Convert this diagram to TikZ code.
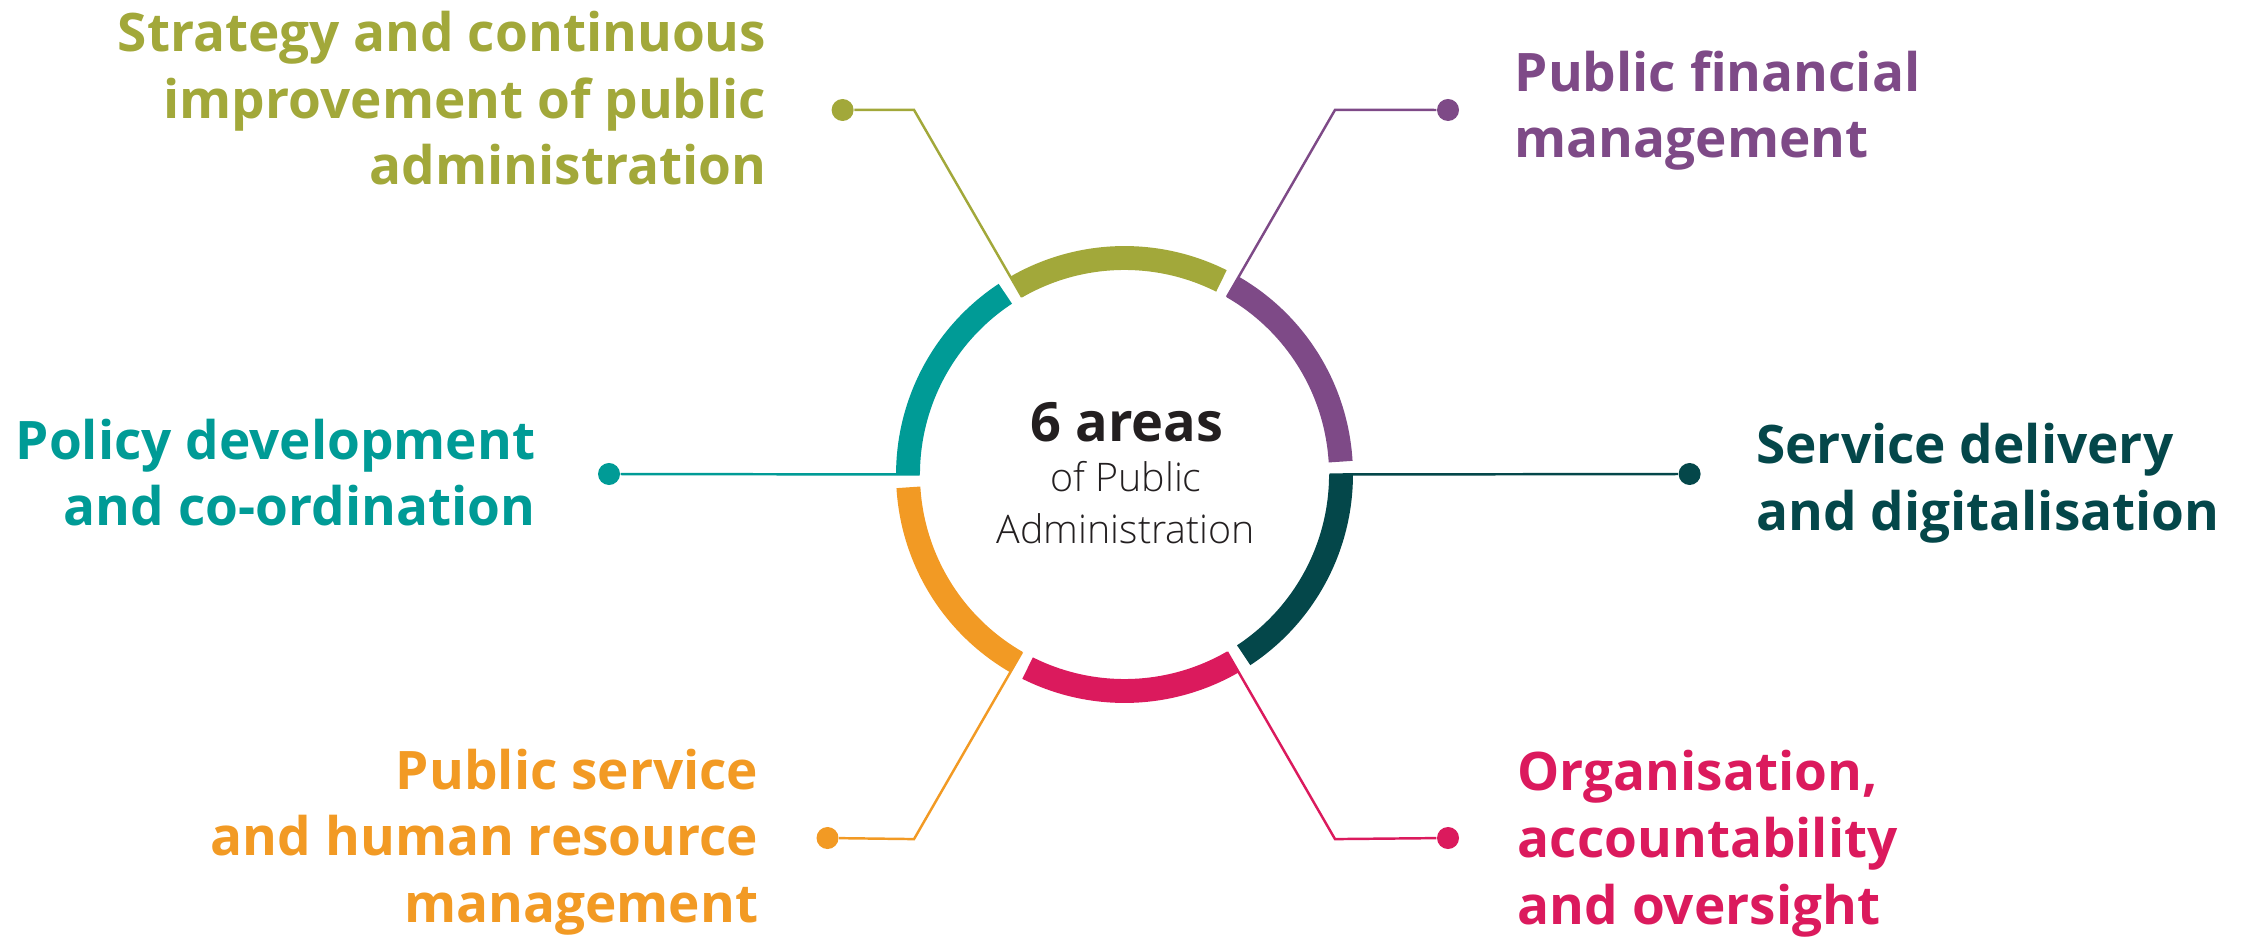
\documentclass[tikz,border=0pt]{standalone}
\usepackage{fontspec}
\setmainfont{Open Sans}
\newfontfamily\lightfont{Open Sans Light}

\definecolor{stratcol}{HTML}{A2A83A}
\definecolor{fincol}{HTML}{7E4A87}
\definecolor{policycol}{HTML}{009B96}
\definecolor{servcol}{HTML}{04474A}
\definecolor{hrmcol}{HTML}{F29A24}
\definecolor{orgcol}{HTML}{DB1A5D}
\definecolor{hubtext}{HTML}{231F20}

\begin{document}
\begin{tikzpicture}[x=0.01cm,y=0.01cm,
  seg/.style={line width=6.8pt},
  leader/.style={line width=0.7pt},
  dot/.style={circle,fill,inner sep=0pt,minimum size=0.22cm},
  area/.style={font=\bfseries\fontsize{15.1}{19}\selectfont,inner sep=0pt}]
  \useasboundingbox (0,0) rectangle (2246,939);
  \coordinate (c) at (1124.5,464.5);

  % ring, cut just after every 60 degrees
  \draw[seg,fincol]    ([shift={(3.4:216.5)}]c)   arc (3.4:60:216.5);
  \draw[seg,stratcol]  ([shift={(63.4:216.5)}]c)  arc (63.4:120:216.5);
  \draw[seg,policycol] ([shift={(123.4:216.5)}]c) arc (123.4:180:216.5);
  \draw[seg,hrmcol]    ([shift={(183.4:216.5)}]c) arc (183.4:240:216.5);
  \draw[seg,orgcol]    ([shift={(243.4:216.5)}]c) arc (243.4:300:216.5);
  \draw[seg,servcol]   ([shift={(303.4:216.5)}]c) arc (303.4:360:216.5);

  % centre text
  \node[anchor=base,text=hubtext,inner sep=0pt,font=\bfseries\fontsize{15.4}{19}\selectfont]
    (areas) at (1127,498) {6 areas};
  \node[anchor=base,text=hubtext,inner sep=0pt,font=\lightfont\fontsize{11.2}{14}\selectfont]
    (ofpub) at (1126,447) {of Public};
  \node[anchor=base,text=hubtext,inner sep=0pt,font=\lightfont\fontsize{11.2}{14}\selectfont]
    (admin) at (1126,396) {Administration};

  % leaders: ring -> bend -> dot
  \coordinate (s0)   at ([shift={(0:205)}]c);
  \coordinate (s60)  at ([shift={(60:205)}]c);
  \coordinate (s120) at ([shift={(120:205)}]c);
  \coordinate (s180) at ([shift={(180:205)}]c);
  \coordinate (s240) at ([shift={(240:205)}]c);
  \coordinate (s300) at ([shift={(300:205)}]c);
  \coordinate (k60)  at ([shift={(60:421)}]c);
  \coordinate (k120) at ([shift={(120:421)}]c);
  \coordinate (k240) at ([shift={(240:421)}]c);
  \coordinate (k300) at ([shift={(300:421)}]c);

  \node[dot,fincol]    (d60)  at (1448,829) {};
  \node[dot,stratcol]  (d120) at (842.6,829) {};
  \node[dot,policycol] (d180) at (609,465) {};
  \node[dot,servcol]   (d0)   at (1689.6,465) {};
  \node[dot,hrmcol]    (d240) at (827.5,101) {};
  \node[dot,orgcol]    (d300) at (1448,101) {};

  \draw[leader,fincol]    (s60) -- (k60) -- (d60);
  \draw[leader,stratcol]  (s120) -- (k120) -- (d120);
  \draw[leader,policycol] (s180) -- (d180);
  \draw[leader,servcol]   (s0) -- (d0);
  \draw[leader,hrmcol]    (s240) -- (k240) -- (d240);
  \draw[leader,orgcol]    (s300) -- (k300) -- (d300);

  % area labels (base = last line)
  \node[area,text=stratcol,anchor=base east,align=right] (strat) at (767,754)
    {Strategy and continuous\\improvement of public\\administration};
  \node[area,text=fincol,anchor=base west,align=left] (fin) at (1514,781)
    {Public financial\\management};
  \node[area,text=policycol,anchor=base east,align=right] (policy) at (536,413)
    {Policy development\\and co-ordination};
  \node[area,text=servcol,anchor=base west,align=left] (serv) at (1755.6,409)
    {Service delivery\\and digitalisation};
  \node[area,text=hrmcol,anchor=base east,align=right] (hrm) at (759,16.3)
    {Public service\\and human resource\\management};
  \node[area,text=orgcol,anchor=base west,align=left] (org) at (1517,15)
    {Organisation,\\accountability\\and oversight};
\end{tikzpicture}
\end{document}
